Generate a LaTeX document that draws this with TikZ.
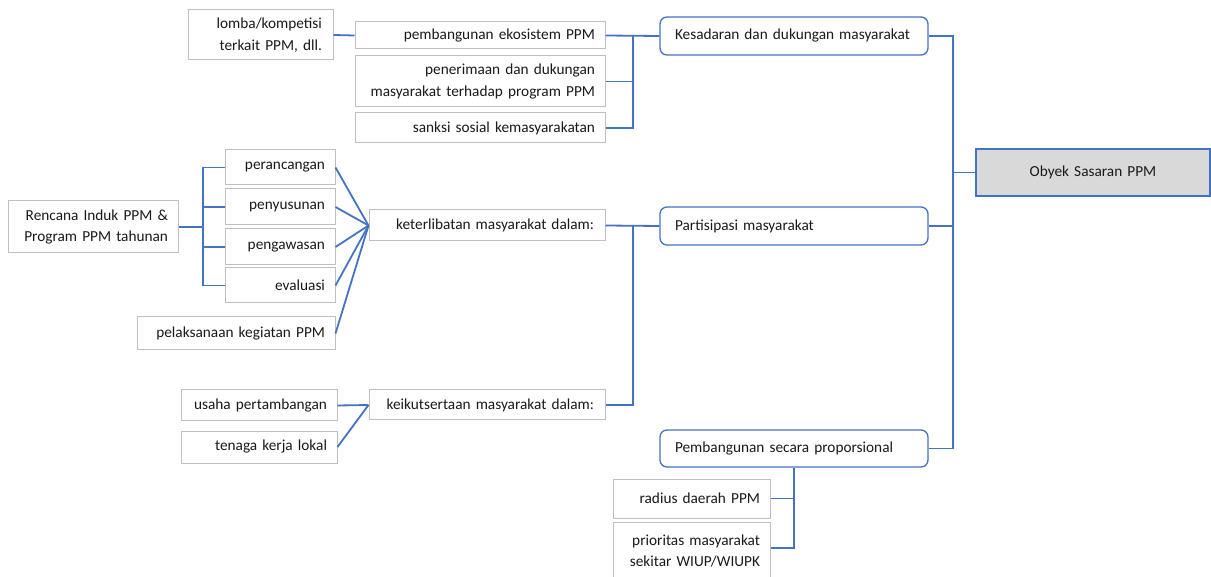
\documentclass[tikz,border=0pt]{standalone}
\usepackage{fontspec}
\setmainfont{Carlito}
\definecolor{lblue}{HTML}{4472C4}
\definecolor{bgray}{HTML}{BFBFBF}
\definecolor{fgray}{HTML}{D9D9D9}
\definecolor{txt}{HTML}{1A1A1A}
\tikzset{
  box/.style={draw=bgray, line width=1pt, inner sep=0pt, align=right, fill=white, text=txt,
    font=\fontsize{15.3}{21.5}\selectfont},
  rbox/.style={box, draw=lblue, line width=1.3pt, rounded corners=7pt, align=left},
  obox/.style={box, draw=lblue, line width=1.3pt, fill=fgray, align=center},
  conn/.style={draw=lblue, line width=1.8pt}
}
\newcommand\pbox[8][]{%
  \pgfmathsetmacro\pbw{#5-#3}\pgfmathsetmacro\pbh{#6-#4}%
  \pgfmathsetmacro\pbcx{(#3+#5)/2}\pgfmathsetmacro\pbcy{(#4+#6)/2}%
  \pgfmathsetmacro\pbtw{\pbw-#7}%
  \node[box,minimum width=\pbw pt,minimum height=\pbh pt,text width=\pbtw pt,#1] (#2) at (\pbcx pt,-\pbcy pt) {#8};}
\begin{document}
\begin{tikzpicture}[x=1pt,y=1pt]
\useasboundingbox (0,0) rectangle (1211,-577);
% top group
\pbox{lomba}{188}{10}{333}{60}{22}{lomba/kompetisi\\terkait PPM, dll.}
\pbox{pemb}{355}{22}{605}{49}{20}{pembangunan ekosistem PPM}
\pbox{pen}{355}{56}{605}{107}{20}{penerimaan dan dukungan\\masyarakat terhadap program PPM}
\pbox{sank}{355}{113}{605}{143}{20}{sanksi sosial kemasyarakatan}
\pbox[rbox]{kes}{660}{17}{928}{55}{30}{Kesadaran dan dukungan masyarakat}
\pbox[obox]{oby}{976}{149}{1210}{196}{20}{Obyek Sasaran PPM}
% middle group
\pbox{ren}{8}{201}{178}{253}{20}{Rencana Induk PPM \&\\Program PPM tahunan}
\pbox{peranc}{225}{150}{335}{185}{20}{perancangan}
\pbox{penyus}{225}{189}{335}{225}{20}{penyusunan}
\pbox{pengaw}{225}{229}{335}{265}{20}{pengawasan}
\pbox{eval}{225}{268}{335}{303}{20}{evaluasi}
\pbox{pelak}{137}{317}{335}{350}{20}{pelaksanaan kegiatan PPM}
\pbox{ket}{369}{210}{605}{241}{22}{keterlibatan masyarakat dalam:}
\pbox[rbox]{part}{660}{207}{928}{245}{30}{Partisipasi masyarakat}
\pbox{keik}{369}{390}{605}{420}{22}{keikutsertaan masyarakat dalam:}
\pbox{usaha}{181}{390}{337}{421}{20}{usaha pertambangan}
\pbox{tenaga}{181}{431}{337}{463}{20}{tenaga kerja lokal}
% bottom group
\pbox[rbox]{pems}{660}{430}{928}{467}{30}{Pembangunan secara proporsional}
\pbox{rad}{613}{479}{770}{518}{20}{radius daerah PPM}
\pbox{prio}{613}{522}{770}{580}{20}{prioritas masyarakat\\sekitar WIUP/WIUPK}
% bus coordinates
\coordinate (b0) at (953,-172.5);
\coordinate (b1) at (633,-36);
\coordinate (b2) at (203,-227);
\coordinate (b3) at (633,-226);
% connectors
\draw[conn] (lomba.east) -- (pemb.west);
\draw[conn] (pemb.east) -- (kes.west);
\draw[conn] (pen.east) -| (b1);
\draw[conn] (sank.east) -| (b1);
\draw[conn] (oby.west) -- (b0);
\draw[conn] (kes.east) -| (b0);
\draw[conn] (part.east) -| (b0);
\draw[conn] (pems.east) -| (b0);
\draw[conn] (ren.east) -- (b2);
\draw[conn] (peranc.west) -| (b2);
\draw[conn] (penyus.west) -| (b2);
\draw[conn] (pengaw.west) -| (b2);
\draw[conn] (eval.west) -| (b2);
\draw[conn] (peranc.east) -- (ket.west);
\draw[conn] (penyus.east) -- (ket.west);
\draw[conn] (pengaw.east) -- (ket.west);
\draw[conn] (eval.east) -- (ket.west);
\draw[conn] (pelak.east) -- (ket.west);
\draw[conn] (ket.east) -- (part.west);
\draw[conn] (keik.east) -| (b3);
\draw[conn] (usaha.east) -- (keik.west);
\draw[conn] (tenaga.east) -- (keik.west);
\draw[conn] (rad.east) -| (pems.south);
\draw[conn] (prio.east |- 0,-548) -| (pems.south);
\end{tikzpicture}
\end{document}
